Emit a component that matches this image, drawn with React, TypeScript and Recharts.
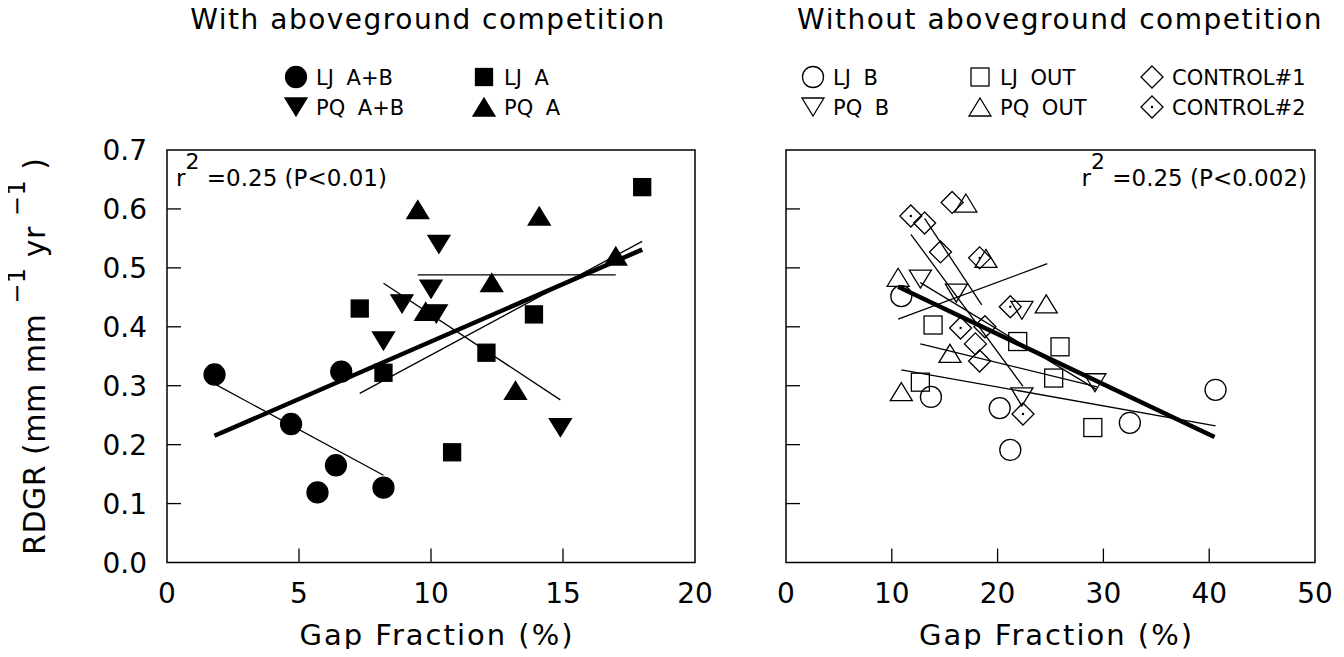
import React from "react"
import {
    Legend,
    ReferenceArea,
    ReferenceLine,
    Scatter,
    ScatterChart,
    XAxis,
    YAxis,
} from "recharts"

type Pt = { x: number; y: number }
type Kind = "circle" | "square" | "up" | "down" | "diamond" | "diamondDot"

const FONT = "'DejaVu Sans', sans-serif"

// ---- with aboveground competition ----
const LJ_AB: Pt[] = [
    { x: 1.8, y: 0.319 }, { x: 4.7, y: 0.235 }, { x: 6.6, y: 0.324 },
    { x: 6.4, y: 0.165 }, { x: 5.7, y: 0.119 }, { x: 8.2, y: 0.127 },
]
const LJ_A: Pt[] = [
    { x: 7.3, y: 0.431 }, { x: 8.2, y: 0.322 }, { x: 12.1, y: 0.356 },
    { x: 13.9, y: 0.421 }, { x: 10.8, y: 0.187 }, { x: 18.0, y: 0.637 },
]
const PQ_AB: Pt[] = [
    { x: 10.3, y: 0.54 }, { x: 10.0, y: 0.464 }, { x: 8.9, y: 0.439 },
    { x: 10.2, y: 0.422 }, { x: 8.2, y: 0.376 }, { x: 14.9, y: 0.229 },
]
const PQ_A: Pt[] = [
    { x: 9.5, y: 0.599 }, { x: 14.1, y: 0.588 }, { x: 12.3, y: 0.475 },
    { x: 9.8, y: 0.426 }, { x: 13.2, y: 0.292 }, { x: 17.0, y: 0.52 },
]
const FITS_LEFT: Pt[][] = [
    [{ x: 1.8, y: 0.303 }, { x: 8.2, y: 0.148 }],
    [{ x: 7.3, y: 0.287 }, { x: 18.0, y: 0.545 }],
    [{ x: 8.2, y: 0.474 }, { x: 14.9, y: 0.276 }],
    [{ x: 9.5, y: 0.488 }, { x: 17.0, y: 0.488 }],
]
const FIT_LEFT_ALL: Pt[] = [{ x: 1.8, y: 0.215 }, { x: 18.0, y: 0.531 }]

// ---- without aboveground competition ----
const LJ_B: Pt[] = [
    { x: 10.9, y: 0.452 }, { x: 13.7, y: 0.281 }, { x: 20.2, y: 0.262 },
    { x: 21.2, y: 0.191 }, { x: 32.5, y: 0.237 }, { x: 40.6, y: 0.293 },
]
const LJ_OUT: Pt[] = [
    { x: 13.9, y: 0.403 }, { x: 12.7, y: 0.306 }, { x: 21.9, y: 0.375 },
    { x: 25.9, y: 0.366 }, { x: 25.3, y: 0.313 }, { x: 29.0, y: 0.229 },
]
const PQ_B: Pt[] = [
    { x: 12.7, y: 0.481 }, { x: 16.1, y: 0.457 }, { x: 22.3, y: 0.428 },
    { x: 29.2, y: 0.305 }, { x: 22.3, y: 0.281 },
]
const PQ_OUT: Pt[] = [
    { x: 10.6, y: 0.484 }, { x: 17.0, y: 0.61 }, { x: 24.6, y: 0.439 },
    { x: 15.5, y: 0.355 }, { x: 10.9, y: 0.29 }, { x: 18.9, y: 0.516 },
]
const CONTROL_1: Pt[] = [
    { x: 15.7, y: 0.611 }, { x: 13.1, y: 0.576 }, { x: 14.6, y: 0.527 },
    { x: 18.8, y: 0.4 }, { x: 17.9, y: 0.371 }, { x: 18.3, y: 0.342 },
]
const CONTROL_2: Pt[] = [
    { x: 11.8, y: 0.588 }, { x: 18.3, y: 0.517 }, { x: 21.2, y: 0.434 },
    { x: 16.5, y: 0.398 }, { x: 22.4, y: 0.252 },
]
const FITS_RIGHT: Pt[][] = [
    [{ x: 10.6, y: 0.413 }, { x: 24.7, y: 0.507 }],
    [{ x: 11.8, y: 0.557 }, { x: 22.4, y: 0.299 }],
    [{ x: 13.1, y: 0.584 }, { x: 18.5, y: 0.437 }],
    [{ x: 12.7, y: 0.475 }, { x: 29.4, y: 0.293 }],
    [{ x: 12.7, y: 0.371 }, { x: 29.4, y: 0.298 }],
    [{ x: 10.9, y: 0.327 }, { x: 40.6, y: 0.232 }],
]
const FIT_RIGHT_ALL: Pt[] = [{ x: 10.6, y: 0.468 }, { x: 40.5, y: 0.213 }]

const Y_TICKS = [0, 0.1, 0.2, 0.3, 0.4, 0.5, 0.6, 0.7]
const X_TICKS_LEFT = [0, 5, 10, 15, 20]
const X_TICKS_RIGHT = [0, 10, 20, 30, 40, 50]

function Marker({ cx, cy, kind, filled }: { cx: number; cy: number; kind: Kind; filled: boolean }) {
    const fill = filled ? "#000" : "none"
    const sw = 1.3
    if (kind === "circle") return <circle cx={cx} cy={cy} r={10.5} fill={fill} stroke="#000" strokeWidth={sw} />
    if (kind === "square") {
        const s = filled ? 17 : 18
        return <rect x={cx - s / 2} y={cy - s / 2} width={s} height={s} fill={fill} stroke="#000" strokeWidth={sw} />
    }
    if (kind === "up" || kind === "down") {
        const w = 22, h = 18, d = kind === "up" ? 1 : -1
        const pts = `${cx},${cy - (d * h) / 2} ${cx + w / 2},${cy + (d * h) / 2} ${cx - w / 2},${cy + (d * h) / 2}`
        return <polygon points={pts} fill={fill} stroke="#000" strokeWidth={sw} strokeLinejoin="miter" />
    }
    const s = 11
    return (
        <g>
            <polygon points={`${cx},${cy - s} ${cx + s},${cy} ${cx},${cy + s} ${cx - s},${cy}`} fill="none" stroke="#000" strokeWidth={sw} />
            {kind === "diamondDot" && <circle cx={cx} cy={cy} r={1.2} fill="#000" />}
        </g>
    )
}

const shapeOf = (kind: Kind, filled: boolean) => (p: any) =>
    <Marker cx={p.cx} cy={p.cy} kind={kind} filled={filled} />

function XTick({ x, y, payload, max }: any) {
    const v = payload.value
    return (
        <g>
            {v !== 0 && v !== max && <line x1={x} x2={x} y1={y} y2={y - 14} stroke="#000" strokeWidth={1.3} />}
            <text x={x} y={y + 40} textAnchor="middle" fontFamily={FONT} fontSize={28} fill="#000">{v}</text>
        </g>
    )
}

function YTick({ x, y, payload, showText }: any) {
    const v = payload.value
    return (
        <g>
            {v > 0 && v < 0.7 && <line x1={x} x2={x + 14} y1={y} y2={y} stroke="#000" strokeWidth={1.3} />}
            {showText && (
                <text x={x - 20} y={y} dy="0.36em" textAnchor="end" fontFamily={FONT} fontSize={28} fill="#000">
                    {v.toFixed(1)}
                </text>
            )}
        </g>
    )
}

function XTitle({ viewBox }: any) {
    const { x, y, width } = viewBox
    return (
        <text x={x + width / 2 + 6} y={y + 82} textAnchor="middle" fontFamily={FONT} fontSize={29} letterSpacing={2} fill="#000">
            Gap Fraction (%)
        </text>
    )
}

function YTitle({ viewBox }: any) {
    const { x, y, height } = viewBox
    const cx = x - 22
    const cy = y + height / 2
    return (
        <text transform={`translate(${cx},${cy}) rotate(-90)`} textAnchor="middle" fontFamily={FONT} fontSize={30} letterSpacing={0.5} fill="#000">
            RDGR (mm mm <tspan dy={-20} fontSize={24}>−1</tspan>
            <tspan dy={20}> yr </tspan>
            <tspan dy={-20} fontSize={24}>−1</tspan>
            <tspan dy={20}> )</tspan>
        </text>
    )
}

function Stat({ viewBox, text, alignRight }: any) {
    const { x, y, width } = viewBox
    return (
        <text
            x={alignRight ? x + width - 8 : x + 9} y={y + 36}
            textAnchor={alignRight ? "end" : "start"} fontFamily={FONT} fontSize={23} fill="#000"
        >
            r<tspan dy={-17} fontSize={22}>2</tspan><tspan dy={17}> {text}</tspan>
        </text>
    )
}

type Item = { label: string; kind: Kind; filled: boolean; x: number; row: number }

function Header({ title, titleX, items }: { title: string; titleX: number; items: Item[] }) {
    return (
        <svg width={720} height={140} style={{ display: "block" }}>
            <text x={titleX} y={29} textAnchor="middle" fontFamily={FONT} fontSize={28} letterSpacing={1.5} fill="#000">
                {title}
            </text>
            {items.map((it) => {
                const cy = it.row === 0 ? 77 : 107
                return (
                    <g key={it.label}>
                        <Marker cx={it.x} cy={cy} kind={it.kind} filled={it.filled} />
                        <text x={it.x + 20} y={cy} dy="0.36em" fontFamily={FONT} fontSize={21} wordSpacing={6} fill="#000">
                            {it.label}
                        </text>
                    </g>
                )
            })}
        </svg>
    )
}

const LEFT_ITEMS: Item[] = [
    { label: "LJ A+B", kind: "circle", filled: true, x: 296, row: 0 },
    { label: "LJ A", kind: "square", filled: true, x: 484, row: 0 },
    { label: "PQ A+B", kind: "down", filled: true, x: 296, row: 1 },
    { label: "PQ A", kind: "up", filled: true, x: 484, row: 1 },
]
const RIGHT_ITEMS: Item[] = [
    { label: "LJ B", kind: "circle", filled: false, x: 93, row: 0 },
    { label: "LJ OUT", kind: "square", filled: false, x: 260, row: 0 },
    { label: "CONTROL#1", kind: "diamond", filled: false, x: 432, row: 0 },
    { label: "PQ B", kind: "down", filled: false, x: 93, row: 1 },
    { label: "PQ OUT", kind: "up", filled: false, x: 260, row: 1 },
    { label: "CONTROL#2", kind: "diamondDot", filled: false, x: 432, row: 1 },
]

export default function App() {
    return (
        <div style={{ position: "relative", width: 1344, height: 657, margin: -8, background: "#fff" }}>
            <div style={{ position: "absolute", left: 0, top: 0 }}>
                <ScatterChart width={720} height={657} margin={{ top: 150, right: 25, bottom: 14.5, left: 67 }}>
                    <XAxis
                        dataKey="x" type="number" domain={[0, 20]} ticks={X_TICKS_LEFT} height={80}
                        axisLine={false} tickLine={false} tickSize={0} tickMargin={0}
                        tick={<XTick max={20} />} label={(p: any) => <XTitle viewBox={p.viewBox} />}
                    />
                    <YAxis
                        dataKey="y" type="number" domain={[0, 0.7]} ticks={Y_TICKS} width={100}
                        axisLine={false} tickLine={false} tickSize={0} tickMargin={0}
                        tick={<YTick showText />} label={(p: any) => <YTitle viewBox={p.viewBox} />}
                    />
                    <ReferenceArea
                        x1={0} x2={20} y1={0} y2={0.7} fill="none" stroke="#000" strokeWidth={1.5}
                        label={(p: any) => <Stat viewBox={p.viewBox} text="=0.25 (P<0.01)" />}
                    />
                    <Scatter data={LJ_AB} shape={shapeOf("circle", true)} isAnimationActive={false} />
                    <Scatter data={LJ_A} shape={shapeOf("square", true)} isAnimationActive={false} />
                    <Scatter data={PQ_AB} shape={shapeOf("down", true)} isAnimationActive={false} />
                    <Scatter data={PQ_A} shape={shapeOf("up", true)} isAnimationActive={false} />
                    {FITS_LEFT.map((seg, i) => (
                        <ReferenceLine key={i} segment={seg} stroke="#000" strokeWidth={1.3} />
                    ))}
                    <ReferenceLine segment={FIT_LEFT_ALL} stroke="#000" strokeWidth={4.5} />
                    <Legend
                        layout="vertical" align="center" verticalAlign="middle"
                        wrapperStyle={{ left: 0, top: 0, width: 720, height: 140 }}
                        content={() => <Header title="With aboveground competition" titleX={428} items={LEFT_ITEMS} />}
                    />
                </ScatterChart>
            </div>
            <div style={{ position: "absolute", left: 720, top: 0 }}>
                <ScatterChart width={624} height={657} margin={{ top: 150, right: 29, bottom: 14.5, left: 6 }}>
                    <XAxis
                        dataKey="x" type="number" domain={[0, 50]} ticks={X_TICKS_RIGHT} height={80}
                        axisLine={false} tickLine={false} tickSize={0} tickMargin={0}
                        tick={<XTick max={50} />} label={(p: any) => <XTitle viewBox={p.viewBox} />}
                    />
                    <YAxis
                        dataKey="y" type="number" domain={[0, 0.7]} ticks={Y_TICKS} width={60}
                        axisLine={false} tickLine={false} tickSize={0} tickMargin={0}
                        tick={<YTick showText={false} />}
                    />
                    <ReferenceArea
                        x1={0} x2={50} y1={0} y2={0.7} fill="none" stroke="#000" strokeWidth={1.5}
                        label={(p: any) => <Stat viewBox={p.viewBox} text="=0.25 (P<0.002)" alignRight />}
                    />
                    <Scatter data={LJ_B} shape={shapeOf("circle", false)} isAnimationActive={false} />
                    <Scatter data={LJ_OUT} shape={shapeOf("square", false)} isAnimationActive={false} />
                    <Scatter data={PQ_B} shape={shapeOf("down", false)} isAnimationActive={false} />
                    <Scatter data={PQ_OUT} shape={shapeOf("up", false)} isAnimationActive={false} />
                    <Scatter data={CONTROL_1} shape={shapeOf("diamond", false)} isAnimationActive={false} />
                    <Scatter data={CONTROL_2} shape={shapeOf("diamondDot", false)} isAnimationActive={false} />
                    {FITS_RIGHT.map((seg, i) => (
                        <ReferenceLine key={i} segment={seg} stroke="#000" strokeWidth={1.3} />
                    ))}
                    <ReferenceLine segment={FIT_RIGHT_ALL} stroke="#000" strokeWidth={4.5} />
                    <Legend
                        layout="vertical" align="center" verticalAlign="middle"
                        wrapperStyle={{ left: 0, top: 0, width: 624, height: 140 }}
                        content={() => <Header title="Without aboveground competition" titleX={340} items={RIGHT_ITEMS} />}
                    />
                </ScatterChart>
            </div>
        </div>
    )
}
